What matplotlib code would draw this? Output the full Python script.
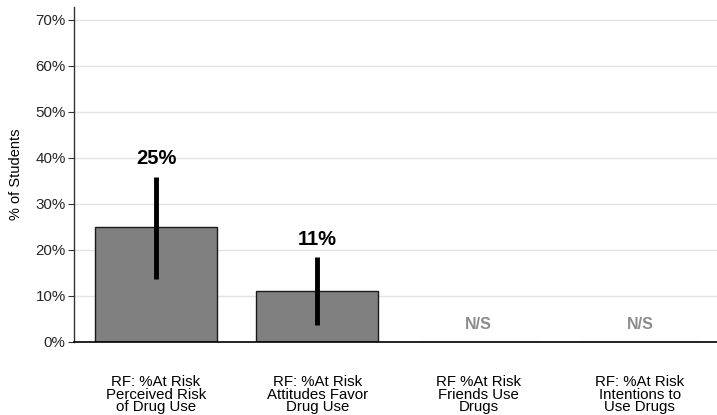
import numpy as np
import matplotlib
matplotlib.use("Agg")
import matplotlib.pyplot as plt

plt.rcParams["font.family"] = ["Liberation Sans", "DejaVu Sans"]

# Data
categories = [
    "RF: %At Risk\nPerceived Risk\nof Drug Use",
    "RF: %At Risk\nAttitudes Favor\nDrug Use",
    "RF %At Risk\nFriends Use\nDrugs",
    "RF: %At Risk\nIntentions to\nUse Drugs",
]
values = [25, 11, np.nan, np.nan]
err_low = [13.7, 3.6, np.nan, np.nan]
err_high = [35.9, 18.4, np.nan, np.nan]
bar_labels = ["25%", "11%", "N/S", "N/S"]
yticks = [0, 10, 20, 30, 40, 50, 60, 70]

fig = plt.figure(figsize=(7.17, 4.15), dpi=100)
ax = fig.add_axes([0.1032, 0.176, 0.8968, 0.807])

x = np.arange(len(categories))
heights = np.nan_to_num(values)

ax.bar(x, heights, width=0.756, color="#808080", edgecolor="#1a1a1a",
       linewidth=1.0, zorder=2)

for i, v in enumerate(values):
    if np.isnan(v):
        ax.text(x[i], 3.7, bar_labels[i], ha="center", va="center",
                fontsize=11.5, fontweight="bold", color="#8c8c8c")
        continue
    ax.plot([x[i], x[i]], [err_low[i], err_high[i]], color="black",
            linewidth=3.5, solid_capstyle="butt", zorder=3)
    ax.text(x[i], err_high[i] + 3.9, bar_labels[i], ha="center",
            va="center", fontsize=14.5, fontweight="bold", color="black")

ax.set_xlim(-0.508, 3.478)
ax.set_ylim(0, 72.8)
ax.set_yticks(yticks)
ax.set_yticklabels([f"{t}%" for t in yticks], fontsize=10.9, color="#262626")
ax.set_xticks(x)
ax.set_xticklabels(categories, fontsize=10.8, linespacing=0.85, color="black")
ax.tick_params(axis="x", length=0, pad=24)
ax.tick_params(axis="y", length=4, width=0.8, color="#333333", pad=2)

ax.yaxis.grid(True, color="#e3e3e3", linewidth=1.0, zorder=0)
ax.set_axisbelow(True)
for side in ["top", "right"]:
    ax.spines[side].set_visible(False)
ax.spines["left"].set_color("#333333")
ax.spines["bottom"].set_color("black")
ax.spines["left"].set_linewidth(1.0)
ax.spines["bottom"].set_linewidth(1.2)

ax.set_ylabel("% of Students", fontsize=10.5, labelpad=9)

fig.savefig("out.png", dpi=100)
